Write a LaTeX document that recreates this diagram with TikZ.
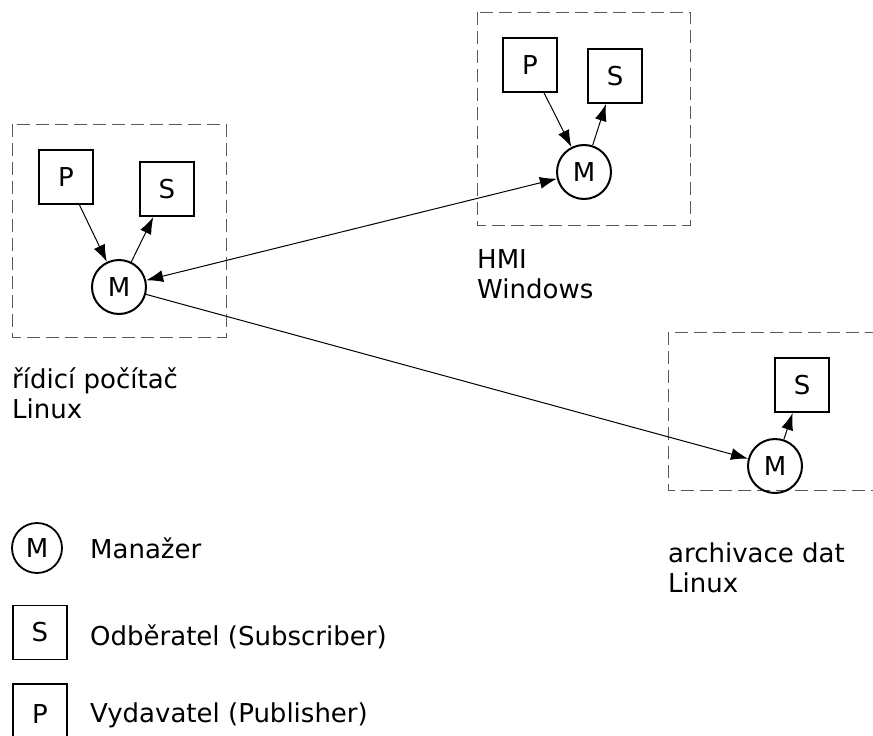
\documentclass[tikz,border=0pt]{standalone}
\usepackage{fontspec}
\setmainfont{DejaVu Sans}
\usetikzlibrary{arrows.meta}
\begin{document}
\begin{tikzpicture}[x=1pt,y=-1pt,
  every node/.style={font=\fontsize{26}{30}\selectfont},
  sq/.style={draw,line width=2pt,minimum width=54pt,minimum height=54pt,inner sep=0pt},
  mgr/.style={draw,circle,line width=2pt,minimum size=54pt,inner sep=0pt},
  grp/.style={draw=black!65,dash pattern=on 13pt off 6pt,line width=1pt},
  lbl/.style={anchor=base west,align=left,inner sep=0pt},
  tip/.style={Latex[length=17pt,width=12pt]},
  conn/.style={line width=1pt,-{Latex[length=17pt,width=12pt]}},
  bconn/.style={line width=1pt,{Latex[length=17pt,width=12pt]}-{Latex[length=17pt,width=12pt]}}]
\useasboundingbox (0,0) rectangle (873,736);
\clip (0,0) rectangle (873,736);
% group boxes
\draw[grp] (12,124) rectangle (226,337);
\draw[grp] (477,12) rectangle (690,225);
\draw[grp] (668,332) rectangle (900,490);
% left group
\node[sq] (lP) at (66,177) {P};
\node[sq] (lS) at (167,189) {S};
\node[mgr] (lM) at (119,287) {M};
% top group
\node[sq] (tP) at (530,65) {P};
\node[sq] (tS) at (615,76) {S};
\node[mgr] (tM) at (584,172) {M};
% right group
\node[sq] (rS) at (802,385) {S};
\node[mgr] (rM) at (775,466) {M};
% connectors
\draw[conn] (lP) -- (lM);
\draw[conn] (lM) -- (lS);
\draw[conn] (tP) -- (tM);
\draw[conn] (tM) -- (tS);
\draw[conn] (rM) -- (rS);
\draw[bconn] (lM) -- (tM);
\draw[conn] (lM) -- (rM);
% group labels (anchored at the baseline of the last line)
\node[lbl] (lL) at (12,418) {řídicí počítač\\Linux};
\node[lbl] (tL) at (477,298) {HMI\\Windows};
\node[lbl] (rL) at (668,592) {archivace dat\\Linux};
% legend
\node[mgr,line width=1.8pt,minimum size=50pt] (kM) at (37,548) {M};
\node[sq,line width=1.8pt] (kS) at (40,632.5) {S};
\node[sq,line width=1.8pt,minimum height=60pt] (kP) at (40,714) {P};
\node[lbl] (kMt) at (90,558) {Manažer};
\node[lbl] (kSt) at (90,645) {Odběratel (Subscriber)};
\node[lbl] (kPt) at (90,722) {Vydavatel (Publisher)};
\end{tikzpicture}
\end{document}
